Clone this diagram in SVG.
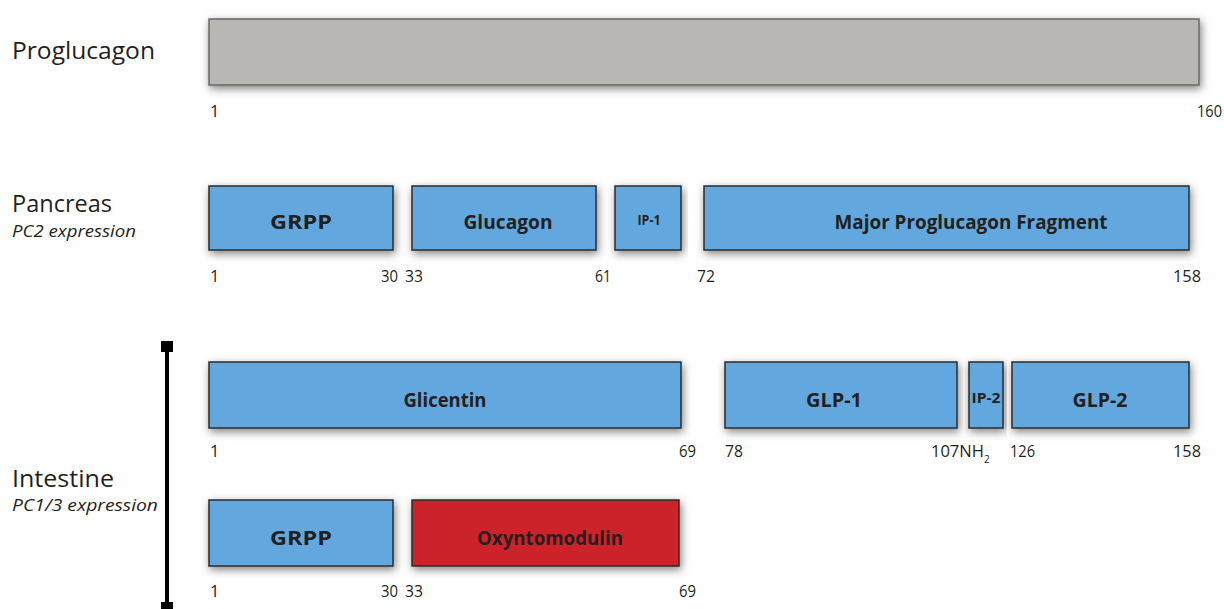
<svg xmlns="http://www.w3.org/2000/svg" width="1224" height="609" viewBox="0 0 1224 609">
<defs>
<filter id="sh" x="-10%" y="-30%" width="120%" height="170%">
<feDropShadow dx="1.5" dy="3" stdDeviation="4" flood-color="#000" flood-opacity="0.5"/>
</filter>
<style>
.box{stroke:#2b2b2b;stroke-width:1.5;filter:url(#sh)}
.blue{fill:#62a8de}
.red{fill:#cc2229}
.gray{fill:#bab6b3;stroke:#6a6766}
.lbl{font-family:"Open Sans","Liberation Sans",sans-serif;font-weight:bold;font-size:20px;fill:#231f20;text-anchor:middle}
.sm{font-size:14px}
.num{font-family:"Open Sans","Liberation Sans",sans-serif;font-size:16.5px;fill:#231f20}
.end{text-anchor:end}
.title{font-family:"Open Sans","Liberation Sans",sans-serif;font-size:23.5px;fill:#231f20}
.sub{font-family:"Open Sans","Liberation Sans",sans-serif;font-style:italic;font-size:17px;fill:#231f20}
</style>
</defs>
<rect width="1224" height="609" fill="#fff"/>

<g id="labels">
<text class="title" x="12" y="59" textLength="143" lengthAdjust="spacingAndGlyphs">Proglucagon</text>
<text class="title" x="12" y="212" textLength="100" lengthAdjust="spacingAndGlyphs">Pancreas</text>
<text class="sub" x="12" y="237" textLength="124" lengthAdjust="spacingAndGlyphs">PC2 expression</text>
<text class="title" x="12" y="487" textLength="102" lengthAdjust="spacingAndGlyphs">Intestine</text>
<text class="sub" x="12" y="511" textLength="146" lengthAdjust="spacingAndGlyphs">PC1/3 expression</text>
</g>

<g id="connectors">
<line x1="167" y1="346" x2="167" y2="606" stroke="#000" stroke-width="4"/>
<rect x="161" y="341" width="12" height="11" fill="#000"/>
<rect x="161" y="602" width="12" height="11" fill="#000"/>
</g>

<g id="proglucagon">
<rect class="box gray" x="209" y="19" width="990" height="66"/>
<text class="num" x="210" y="117">1</text>
<text class="num end" x="1222" y="117" textLength="25" lengthAdjust="spacingAndGlyphs">160</text>
</g>

<g id="pancreas-grpp">
<rect class="box blue" x="209" y="186" width="184" height="64"/>
<text class="lbl" x="301" y="229" textLength="62" lengthAdjust="spacingAndGlyphs">GRPP</text>
<text class="num" x="210" y="282">1</text>
<text class="num end" x="398" y="282" textLength="17" lengthAdjust="spacingAndGlyphs">30</text>
</g>
<g id="pancreas-glucagon">
<rect class="box blue" x="412" y="186" width="184" height="64"/>
<text class="lbl" x="508" y="229" textLength="89" lengthAdjust="spacingAndGlyphs">Glucagon</text>
<text class="num" x="405" y="282" textLength="18" lengthAdjust="spacingAndGlyphs">33</text>
<text class="num end" x="611" y="282" textLength="16" lengthAdjust="spacingAndGlyphs">61</text>
</g>
<g id="pancreas-ip1">
<rect class="box blue" x="615" y="186" width="66" height="64"/>
<text class="lbl sm" x="649" y="225" textLength="23" lengthAdjust="spacingAndGlyphs">IP-1</text>
</g>
<g id="pancreas-mpf">
<rect class="box blue" x="704" y="186" width="485" height="64"/>
<text class="lbl" x="971" y="229" textLength="273" lengthAdjust="spacingAndGlyphs">Major Proglucagon Fragment</text>
<text class="num" x="697" y="282" textLength="18" lengthAdjust="spacingAndGlyphs">72</text>
<text class="num end" x="1201" y="282" textLength="28" lengthAdjust="spacingAndGlyphs">158</text>
</g>

<g id="intestine-glicentin">
<rect class="box blue" x="209" y="362" width="472" height="66"/>
<text class="lbl" x="445" y="407" textLength="83" lengthAdjust="spacingAndGlyphs">Glicentin</text>
<text class="num" x="210" y="457">1</text>
<text class="num end" x="696" y="457" textLength="17" lengthAdjust="spacingAndGlyphs">69</text>
</g>
<g id="intestine-glp1">
<rect class="box blue" x="725" y="362" width="232" height="66"/>
<text class="lbl" x="834" y="407" textLength="56" lengthAdjust="spacingAndGlyphs">GLP-1</text>
<text class="num" x="725" y="457" textLength="18" lengthAdjust="spacingAndGlyphs">78</text>
<text class="num" x="931" y="457">107NH<tspan font-size="10" dy="6">2</tspan></text>
</g>
<g id="intestine-ip2">
<rect class="box blue" x="969" y="362" width="34" height="66"/>
<text class="lbl sm" x="986" y="403" textLength="29" lengthAdjust="spacingAndGlyphs">IP-2</text>
</g>
<g id="intestine-glp2">
<rect class="box blue" x="1012" y="362" width="177" height="66"/>
<text class="lbl" x="1100" y="407" textLength="55" lengthAdjust="spacingAndGlyphs">GLP-2</text>
<text class="num" x="1010" y="457" textLength="25" lengthAdjust="spacingAndGlyphs">126</text>
<text class="num end" x="1201" y="457" textLength="28" lengthAdjust="spacingAndGlyphs">158</text>
</g>

<g id="intestine-grpp">
<rect class="box blue" x="209" y="500" width="184" height="66"/>
<text class="lbl" x="301" y="545" textLength="62" lengthAdjust="spacingAndGlyphs">GRPP</text>
<text class="num" x="210" y="597">1</text>
<text class="num end" x="398" y="597" textLength="17" lengthAdjust="spacingAndGlyphs">30</text>
</g>
<g id="intestine-oxyntomodulin">
<rect class="box red" x="412" y="500" width="267" height="66"/>
<text class="lbl" x="550" y="545" textLength="146" lengthAdjust="spacingAndGlyphs">Oxyntomodulin</text>
<text class="num" x="405" y="597" textLength="18" lengthAdjust="spacingAndGlyphs">33</text>
<text class="num end" x="696" y="597" textLength="17" lengthAdjust="spacingAndGlyphs">69</text>
</g>
</svg>
